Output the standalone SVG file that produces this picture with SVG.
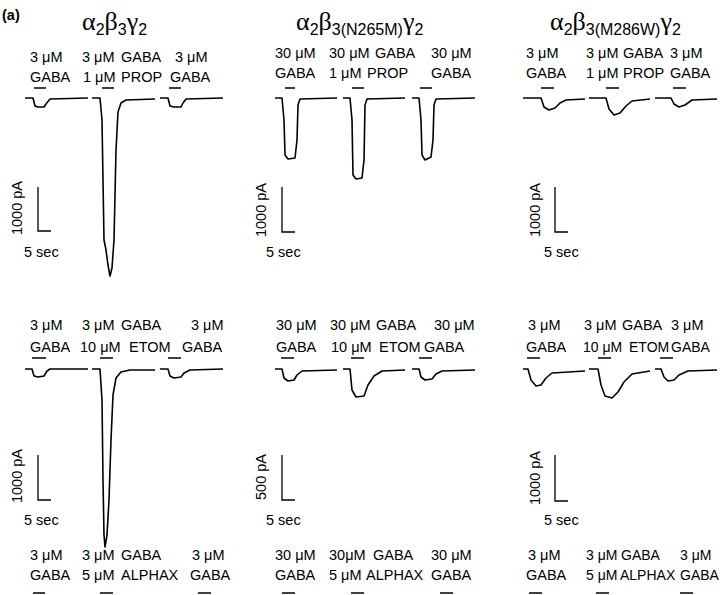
<svg xmlns="http://www.w3.org/2000/svg" width="720" height="595" viewBox="0 0 720 595">
<style>
text{font-family:"Liberation Sans",Arial,sans-serif;font-size:14.5px;fill:#000}
.t{font-family:"Liberation Serif","Times New Roman",serif;font-size:26px}
.s{font-family:"Liberation Sans",Arial,sans-serif;font-size:16px}
.tr{fill:none;stroke:#000;stroke-width:1.6;stroke-linejoin:round}
.b{stroke:#000;stroke-width:1.6}
.sc{fill:none;stroke:#000;stroke-width:1.3}
.n{font-size:14px}
</style>
<rect width="720" height="595" fill="#fff"/>
<text x="2" y="20" font-weight="bold" font-size="18">(a)</text>
<text class="t" x="82" y="30">α<tspan class="s" dy="5">2</tspan><tspan dy="-5">β</tspan><tspan class="s" dy="5">3</tspan><tspan dy="-5">γ</tspan><tspan class="s" dy="5">2</tspan></text>
<text class="t" x="296" y="30">α<tspan class="s" dy="5">2</tspan><tspan dy="-5">β</tspan><tspan class="s" dy="5">3(N265M)</tspan><tspan dy="-5">γ</tspan><tspan class="s" dy="5">2</tspan></text>
<text class="t" x="550" y="30">α<tspan class="s" dy="5">2</tspan><tspan dy="-5">β</tspan><tspan class="s" dy="5">3(M286W)</tspan><tspan dy="-5">γ</tspan><tspan class="s" dy="5">2</tspan></text>

<g id="row1">
<text x="30" y="62">3 μM</text><text x="30" y="82">GABA</text>
<text x="82" y="62">3 μM <tspan x="121">GABA</tspan></text><text x="83" y="82">1 μM <tspan x="121">PROP</tspan></text>
<text x="175" y="62">3 μM</text><text x="170" y="82">GABA</text>
<text x="275" y="58">30 μM</text><text x="275" y="78">GABA</text>
<text x="329" y="58">30 μM <tspan x="375">GABA</tspan></text><text x="329" y="78">1 μM <tspan x="367">PROP</tspan></text>
<text x="431" y="58">30 μM</text><text x="431" y="78">GABA</text>
<text x="526" y="58">3 μM</text><text x="526" y="78">GABA</text>
<text x="586" y="58">3 μM <tspan x="623">GABA</tspan></text><text x="586" y="78">1 μM <tspan x="623">PROP</tspan></text>
<text x="670" y="58">3 μM</text><text x="670" y="78">GABA</text>
<path class="b" d="M34 88H46M102 88H114M169 88H181M285 88H295M352 88H364M420 88H432M541 88H554M606 88H619M673 88H686"/>
<path class="tr" d="M25 98H33L35 106L38 107L44 107L46 104L50 99L88 98"/>
<path class="tr" d="M92 98H100L102 120L104 240L106 250L108 265L110 276L112 268L114 240L116 150L118 112L121 103L126 100L155 99"/>
<path class="tr" d="M160 98H168L170 106L174 107L181 107L183 103L186 99L223 98"/>
<path class="tr" d="M275 98H282L284 120L285 155L288 159L295 158L297 140L298 105L300 99L337 98"/>
<path class="tr" d="M343 98H350L352 120L353 175L356 179L362 178L364 160L365 105L367 99L405 98"/>
<path class="tr" d="M412 98H419L421 120L422 155L425 160L431 157L433 140L434 105L436 99L475 98"/>
<path class="tr" d="M523 98H541L544 107L549 110L555 108L560 103L566 100L585 99"/>
<path class="tr" d="M589 98H606L609 109L614 115L620 113L626 106L632 101L650 99"/>
<path class="tr" d="M655 98H671L674 104L679 107L685 105L692 100L717 99"/>
<path class="sc" d="M38 187V231H51M282 187V232H295M555 187V232H568"/>
<text transform="translate(22 208) rotate(-90)" text-anchor="middle" font-size="16">1000 pA</text>
<text transform="translate(266 210) rotate(-90)" text-anchor="middle" font-size="16">1000 pA</text>
<text transform="translate(540 210) rotate(-90)" text-anchor="middle" font-size="16">1000 pA</text>
<text x="24" y="257" font-size="16">5 sec</text>
<text x="266" y="257" font-size="16">5 sec</text>
<text x="544" y="257" font-size="16">5 sec</text>
</g>

<g id="row2">
<text x="30" y="330">3 μM</text><text x="30" y="352">GABA</text>
<text x="82" y="330">3 μM <tspan x="121">GABA</tspan></text><text x="80" y="352">10 μM <tspan x="129">ETOM</tspan></text>
<text x="191" y="330">3 μM</text><text x="182" y="352">GABA</text>
<text x="276" y="330">30 μM</text><text x="276" y="352">GABA</text>
<text x="330" y="330">30 μM <tspan x="376">GABA</tspan></text><text x="331" y="352">10 μM <tspan x="379">ETOM</tspan></text>
<text x="434" y="330">30 μM</text><text x="424" y="352">GABA</text>
<text x="528" y="330">3 μM</text><text x="526" y="352">GABA</text>
<text x="584" y="330">3 μM <tspan x="622">GABA</tspan></text><text class="n" x="583" y="352">10 μM <tspan x="629">ETOM</tspan></text>
<text x="671" y="330">3 μM</text><text class="n" x="671" y="352">GABA</text>
<path class="b" d="M32 358H46M100 358H113M168 358H181M281 358H294M351 358H364M419 358H432M527 358H540M598 358H611M660 358H673"/>
<path class="tr" d="M25 369H32L34 376L38 377L44 376L47 371L50 369L88 369"/>
<path class="tr" d="M92 369H100L102 400L103 480L104 535L105 547L107 535L109 500L111 440L113 395L116 378L121 372L130 370L155 370"/>
<path class="tr" d="M160 369H168L170 376L174 378L181 377L184 373L190 370L223 369"/>
<path class="tr" d="M275 369H282L284 378L288 381L294 380L297 375L302 371L337 370"/>
<path class="tr" d="M343 369H350L352 390L356 397L364 396L368 385L374 376L382 371L405 370"/>
<path class="tr" d="M412 369H419L421 377L425 380L432 379L436 374L442 371L475 370"/>
<path class="tr" d="M523 369H528L531 380L536 386L541 385L546 378L552 373L585 371"/>
<path class="tr" d="M589 369H598L601 385L605 396L612 398L618 392L624 382L632 374L650 371"/>
<path class="tr" d="M655 369H661L664 377L668 381L674 380L679 375L688 371L717 370"/>
<path class="sc" d="M38 455V500H51M282 455V500H295M555 455V501H568"/>
<text transform="translate(22 476) rotate(-90)" text-anchor="middle" font-size="16">1000 pA</text>
<text transform="translate(266 477) rotate(-90)" text-anchor="middle" font-size="16">500 pA</text>
<text transform="translate(540 478) rotate(-90)" text-anchor="middle" font-size="16">1000 pA</text>
<text x="24" y="525" font-size="16">5 sec</text>
<text x="266" y="525" font-size="16">5 sec</text>
<text x="544" y="525" font-size="16">5 sec</text>
</g>

<g id="row3">
<text x="30" y="560">3 μM</text><text x="30" y="580">GABA</text>
<text x="82" y="560">3 μM <tspan x="121">GABA</tspan></text><text x="82" y="580">5 μM <tspan x="121">ALPHAX</tspan></text>
<text x="192" y="560">3 μM</text><text x="190" y="580">GABA</text>
<text x="275" y="560">30 μM</text><text x="275" y="580">GABA</text>
<text x="329" y="560">30μM <tspan x="373">GABA</tspan></text><text x="329" y="580">5 μM <tspan x="366">ALPHAX</tspan></text>
<text x="431" y="560">30 μM</text><text x="431" y="580">GABA</text>
<text x="528" y="560">3 μM</text><text x="526" y="580">GABA</text>
<text class="n" x="586" y="560">3 μM <tspan x="621">GABA</tspan></text><text class="n" x="586" y="580">5 μM <tspan x="620">ALPHAX</tspan></text>
<text class="n" x="680" y="560">3 μM</text><text class="n" x="680" y="580">GABA</text>
<path class="b" d="M33 593H45M100 593H113M198 593H211M282 593H295M351 593H364M440 593H453M529 593H542M596 593H609M680 593H693"/>
</g>
</svg>
